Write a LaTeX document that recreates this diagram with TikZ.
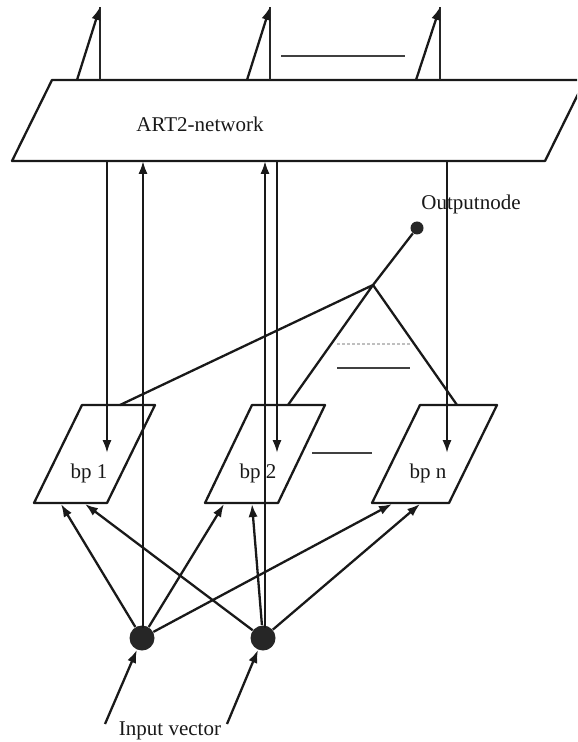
\documentclass[tikz,border=0pt]{standalone}
\usepackage{fontspec}
\setmainfont{Liberation Serif}
\usetikzlibrary{arrows.meta}
\begin{document}
\begin{tikzpicture}[x=0.5pt,y=-0.5pt,
  wire/.style={line width=1.15pt,line join=round,black!90},
  arr/.style={wire,-{Latex[length=6.5pt,width=4.6pt]}},
  thinwire/.style={line width=0.8pt,black!85},
  dots/.style={line width=0.7pt,black!75},
  faint/.style={line width=0.6pt,black!25,dash pattern=on 1.5pt off 1pt},
  lbl/.style={font=\fontsize{10.5}{12}\selectfont,inner sep=0pt,text=black!90},
  indot/.style={circle,fill=black!85,minimum size=12.5pt,inner sep=0pt},
  outdot/.style={circle,fill=black!85,minimum size=6.5pt,inner sep=0pt}]
\useasboundingbox (0,0) rectangle (577,742);
\clip (0,0) rectangle (577,742);

% ART2 block (runs off the right edge)
\draw[wire] (12,161) -- (52,80) -- (585,80) -- (545,161) -- cycle;
\node[lbl] (art) at (200,124) {ART2-network};

% outputs leaving the ART2 block
\foreach \i/\xs/\xv in {1/77/100, 2/247/270, 3/416/440} {
  \coordinate (os\i) at (\xs,80);
  \coordinate (ov\i) at (\xv,80);
  \coordinate (ot\i) at (\xv,7);
  \draw[thinwire] (ov\i) -- (ot\i);
  \draw[arr] (os\i) -- (ot\i);
}
\draw[dots] (281,56) -- (405,56);

% back-propagation modules
\draw[wire] (34,503) -- (82,405) -- (155,405) -- (107,503) -- cycle;
\draw[wire] (205,503) -- (252,405) -- (325,405) -- (278,503) -- cycle;
\draw[wire] (372,503) -- (420,405) -- (497,405) -- (449,503) -- cycle;
\node[lbl] (bp1) at (89,473) {bp 1};
\node[lbl] (bp2) at (258,473) {bp 2};
\node[lbl] (bpn) at (428,473) {bp n};
\draw[dots] (312,453) -- (372,453);

% ART2 -> modules
\foreach \x [count=\i] in {107,277,447} {
  \coordinate (ad\i) at (\x,161);
  \coordinate (md\i) at (\x,453);
  \draw[arr] (ad\i) -- (md\i);
}

% output node and its fan-in
\node[lbl] (outlbl) at (471,204) {Outputnode};
\node[outdot] (onode) at (417,228) {};
\coordinate (junc) at (373,285);
\coordinate (t1) at (120,405);
\coordinate (t2) at (288,405);
\coordinate (tn) at (457,405);
\draw[wire] (onode) -- (junc);
\draw[wire] (t1) -- (junc) -- (t2);
\draw[wire] (junc) -- (tn);
\draw[faint] (337,344) -- (410,344);
\draw[dots] (337,368) -- (410,368);

% input nodes
\node[indot] (in1) at (142,638) {};
\node[indot] (in2) at (263,638) {};
\node[lbl] (iv) at (170,731) {Input vector};
\coordinate (iv1) at (105,724);
\coordinate (iv2) at (227,724);
\draw[arr] (iv1) -- (in1);
\draw[arr] (iv2) -- (in2);

% inputs -> ART2
\coordinate (au1) at (143,161);
\coordinate (au2) at (265,161);
\coordinate (iu1) at (143,628);
\coordinate (iu2) at (265,628);
\draw[arr] (iu1) -- (au1);
\draw[arr] (iu2) -- (au2);

% inputs -> modules
\coordinate (b1a) at (61,504);
\coordinate (b1b) at (85,504);
\coordinate (b2a) at (224,504);
\coordinate (b2b) at (252,504);
\coordinate (bna) at (392,504);
\coordinate (bnb) at (420,504);
\draw[arr] (in1) -- (b1a);
\draw[arr] (in2) -- (b1b);
\draw[arr] (in1) -- (b2a);
\draw[arr] (in2) -- (b2b);
\draw[arr] (in1) -- (bna);
\draw[arr] (in2) -- (bnb);
\end{tikzpicture}
\end{document}
